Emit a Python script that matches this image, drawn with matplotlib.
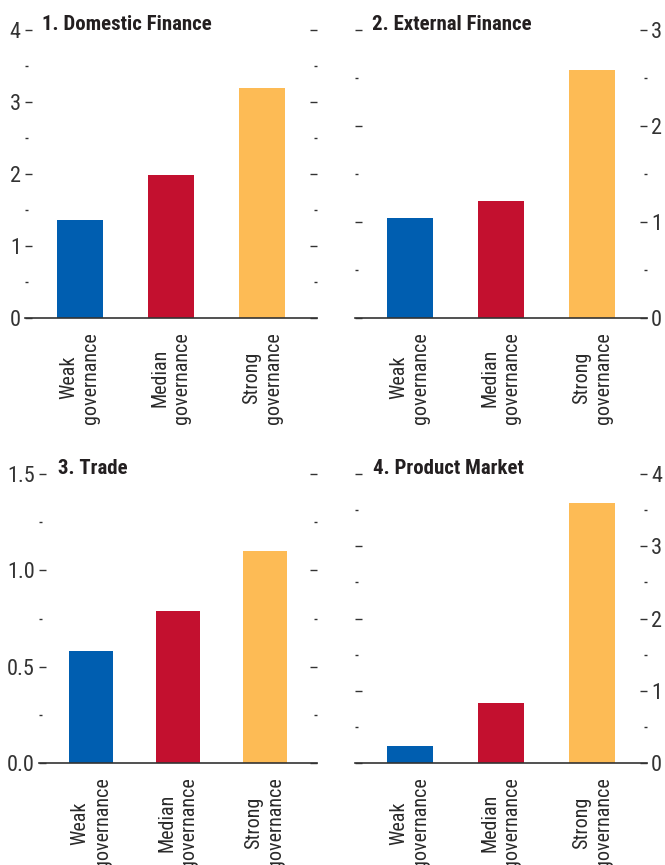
import numpy as np
import matplotlib
matplotlib.use("Agg")
import matplotlib.pyplot as plt
from matplotlib.ticker import MultipleLocator

plt.rcParams['font.family'] = ['Roboto Condensed', 'Archivo Narrow', 'DejaVu Sans']

# data
categories = ["Weak\ngovernance", "Median\ngovernance", "Strong\ngovernance"]
domestic = [1.36, 1.99, 3.2]
external = [1.04, 1.22, 2.58]
trade = [0.58, 0.79, 1.1]
product = [0.23, 0.83, 3.6]

titles = ["1. Domestic Finance", "2. External Finance", "3. Trade", "4. Product Market"]
bar_colors = ["#005eb0", "#c3102f", "#fdbb55"]


def main():
    fig = plt.figure(figsize=(6.65, 8.65), dpi=100)

    # panel rectangles in figure fractions
    rects = [
        [0.0376, 0.6324, 0.439, 0.333],
        [0.5338, 0.6324, 0.439, 0.333],
        [0.0586, 0.1179, 0.418, 0.334],
        [0.5338, 0.1179, 0.439, 0.334],
    ]
    series = [domestic, external, trade, product]
    ylims = [(0, 4), (0, 3), (0, 1.5), (0, 4)]
    majors = [1, 1, 0.5, 1]
    label_side = ["left", "right", "left", "right"]
    title_x = [0.058, 0.058, 0.068, 0.062]

    x = np.arange(len(categories))
    for i in range(4):
        ax = fig.add_axes(rects[i])
        ax.bar(x, series[i], width=0.5, color=bar_colors, zorder=2)
        ax.set_xlim(-0.6, 2.6)
        ax.set_ylim(*ylims[i])

        for s in ["left", "right", "top"]:
            ax.spines[s].set_visible(False)
        ax.spines["bottom"].set_color("#333333")
        ax.spines["bottom"].set_linewidth(1.2)
        ax.spines["bottom"].set_zorder(3)

        ax.set_xticks(x)
        ax.set_xticklabels(categories, rotation=90, ha="center", va="top",
                           multialignment="center", fontsize=14.5, color="#2a2a2a",
                           linespacing=1.2)
        ax.tick_params(axis="x", length=0, pad=10)

        ax.yaxis.set_major_locator(MultipleLocator(majors[i]))
        ax.yaxis.set_minor_locator(MultipleLocator(majors[i] / 2))
        ax.tick_params(axis="y", which="major", direction="in", length=5, width=1,
                       color="#333333", left=True, right=True, labelsize=16,
                       labelcolor="#333333", pad=3)
        ax.tick_params(axis="y", which="minor", direction="in", length=2, width=1,
                       color="#333333", left=True, right=True)
        if label_side[i] == "left":
            ax.tick_params(axis="y", labelleft=True, labelright=False)
            if i == 2:
                ax.yaxis.set_major_formatter(plt.FormatStrFormatter("%.1f"))
        else:
            ax.tick_params(axis="y", labelleft=False, labelright=True)

        ax.text(title_x[i], 1.0, titles[i], transform=ax.transAxes,
                fontsize=15, fontweight="bold", color="#231f20",
                ha="left", va="baseline")

    fig.savefig("out.png", dpi=100)


if __name__ == '__main__':
    main()
